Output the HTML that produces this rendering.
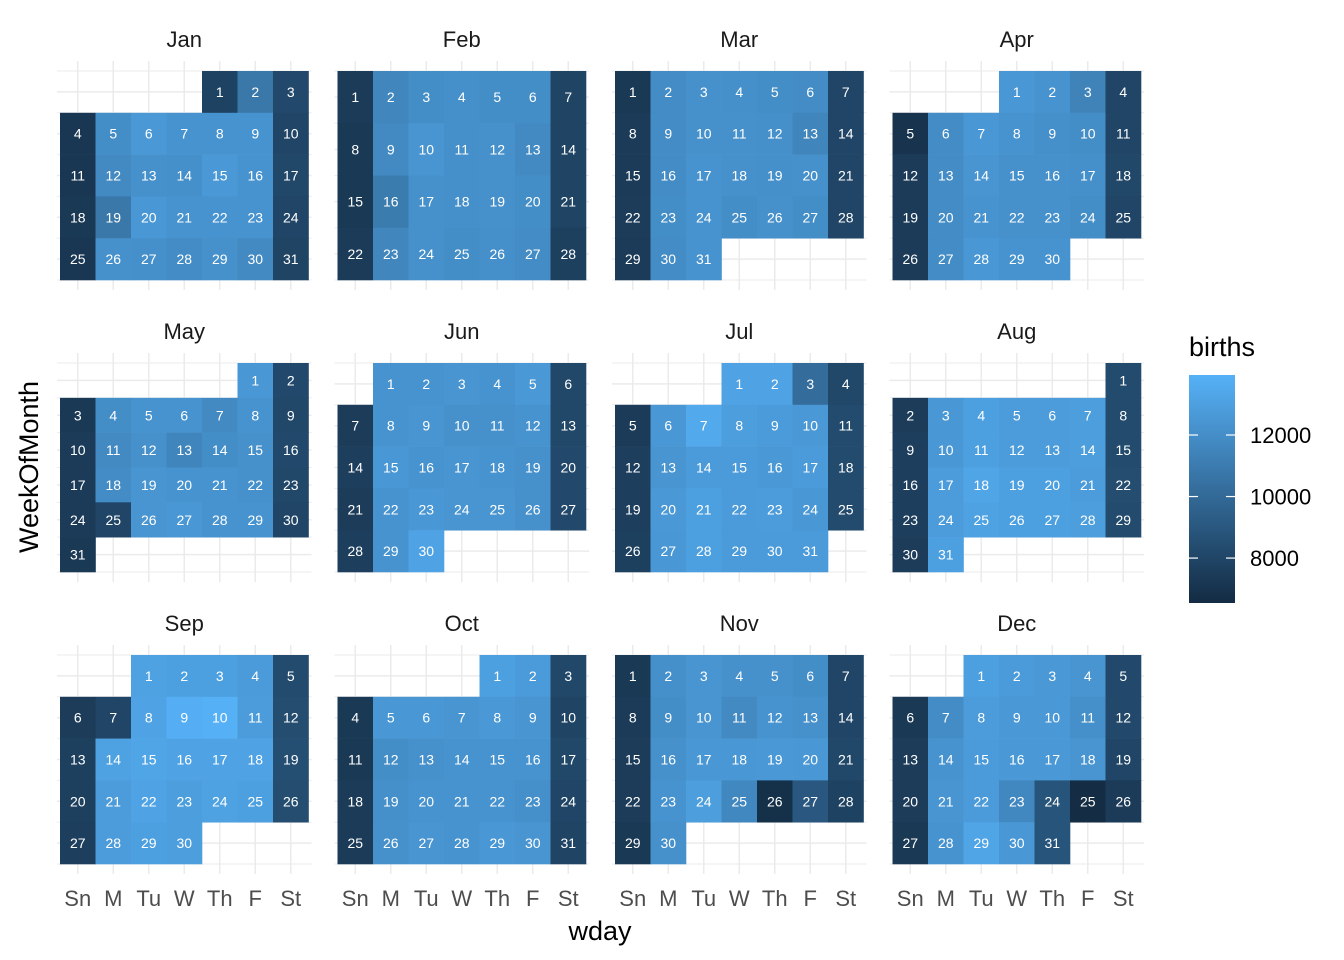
<!DOCTYPE html>
<html><head><meta charset="utf-8"><style>
body{margin:0;background:#fff}
svg{display:block;font-family:"Liberation Sans",sans-serif}
</style></head><body>
<svg id="chart" width="1344" height="960" xmlns="http://www.w3.org/2000/svg">
<text x="600" y="940" text-anchor="middle" font-size="27" fill="#000">wday</text>
<text transform="translate(38,467) rotate(-90)" text-anchor="middle" font-size="27" fill="#000">WeekOfMonth</text>
<text x="1189" y="356" font-size="27" fill="#000">births</text>
</svg>
<script>
const monthNames=["Jan","Feb","Mar","Apr","May","Jun","Jul","Aug","Sep","Oct","Nov","Dec"];
const dayLabels=["Sn","M","Tu","W","Th","F","St"];
const year=2015;
const legendTicks=[8000,10000,12000];
const jan=[7800,10800,8200,7200,12000,12600,12300,12300,12300,8000,7200,11800,12200,12100,12600,12300,8100,7300,10800,12500,12300,12300,12300,8000,7200,12200,12100,11900,12200,11800,7900];
const feb=[7400,11600,12000,12100,12000,12000,7900,7300,11800,12400,12100,12200,11800,7900,7300,11000,12200,12100,12200,12000,7900,7400,11600,12200,12000,12100,11900,7700];
const mar=[7300,11900,12200,12100,12000,11900,8000,7400,11900,12200,12200,12100,11500,8000,7400,11900,12300,12200,12100,12200,8000,7500,12000,12300,12000,12200,12000,8000,7400,11900,12300];
const apr=[12500,12300,11400,8000,7000,11900,12500,12300,12100,12000,8000,7400,11900,12400,12200,12200,12100,8100,7400,11900,12300,12200,12200,12000,8000,7400,11900,12500,12300,12300];
const may=[12500,8200,7300,12000,12300,12300,11800,12300,8100,7400,11800,12200,11500,12000,12200,8200,7400,11900,12400,12300,12300,12200,8100,7400,8000,12400,12500,12300,12300,8000,7300];
const jun=[12300,12300,12400,12300,12600,8100,7500,12300,12400,12200,12200,12300,8100,7600,12500,12300,12400,12300,12200,8200,7500,12300,12500,12400,12400,12200,8200,7600,12300,13200];
const jul=[13200,13200,10200,8100,7400,12500,13500,12900,12700,12600,8300,7600,12400,12700,12700,12600,12700,8300,7600,12600,13000,12700,12800,12500,8300,7700,12500,13000,12700,12700,12700];
const aug=[8300,7500,12500,13000,12800,12800,12900,8300,7600,12500,13000,12800,12800,12900,8300,7600,12800,13300,13000,13000,12800,8400,7600,12800,13100,13000,13000,12900,8300,7500,13000];
const sep=[13100,13000,13000,12700,8300,7500,8000,13200,13800,13900,12800,8400,7700,13100,13300,13200,13200,13200,8500,7700,12800,13200,12900,13100,13000,8400,7600,12800,13000,12900];
const oct=[13000,12700,8100,7300,12500,12500,12400,12600,12400,7900,7300,12000,12200,12300,12300,12300,8100,7400,12100,12300,12300,12300,12100,8000,7400,12200,12400,12300,12500,12400,7900];
const nov=[7300,12100,12400,12200,12200,12000,8000,7400,12000,12400,11800,12300,12200,8000,7500,12200,12500,12500,12600,12500,8100,7500,12300,12900,11700,6800,9000,7800,7300,12200];
const dec=[13000,12700,12600,12400,8200,7300,11900,12800,12600,12600,12100,8200,7500,12300,12700,12600,12600,12400,8000,7500,12400,12700,11700,8800,6600,7400,7300,12300,13300,12500,8800];
const months=[jan,feb,mar,apr,may,jun,jul,aug,sep,oct,nov,dec];

const NS="http://www.w3.org/2000/svg";
const svg=document.getElementById('chart');
const vmin=6540,vmax=13950;
const lo=[19,43,67],hi=[86,177,247];
function color(v){let t=(v-vmin)/(vmax-vmin);t=Math.max(0,Math.min(1,t));
 return 'rgb('+lo.map((c,i)=>Math.round(c+(hi[i]-c)*t)).join(',')+')';}
function mk(tag,attrs,parent){const e=document.createElementNS(NS,tag);for(const k in attrs)e.setAttribute(k,attrs[k]);(parent||svg).appendChild(e);return e;}
const colW=35.5, panelDX=277.5, rowTops=[71,363,655], tileH=209, x0=60;
months.forEach((vals,m)=>{
  const col=m%4,row=Math.floor(m/4);
  const px=x0+col*panelDX, py=rowTops[row];
  const g=mk('g',{});
  
  
  const first=new Date(year,m,1).getDay();
  const nrows=Math.ceil((first+vals.length)/7);
  const h=tileH/nrows;
  // grid
  for(let c=0;c<7;c++){const x=px+colW*(c+0.5);mk('line',{x1:x,x2:x,y1:py-10,y2:py+tileH+10,stroke:'#ebebeb','stroke-width':1.5},g);}
  for(let k=0;k<=nrows*2;k++){const y=py+k*h/2;mk('line',{x1:px-3,x2:px+7*colW+3,y1:y,y2:y,stroke:'#ebebeb','stroke-width':k%2?1.5:1},g);}
  vals.forEach((v,i)=>{
    const idx=first+i, c=idx%7, r=Math.floor(idx/7);
    const x=px+c*colW, y=py+r*h;
    const rc=mk('rect',{x:x,y:y,width:colW+0.3,height:h+0.3,fill:color(v)},g);
    
    
    const t=mk('text',{x:x+colW/2,y:y+h/2+5,'text-anchor':'middle','font-size':14,fill:'#fff'},g);
    t.textContent=i+1;
    
    
  });
  const title=mk('text',{x:px+colW*3.5,y:py-24,'text-anchor':'middle','font-size':22,fill:'#1a1a1a'},g);
  title.textContent=monthNames[m];
  
  
  if(row===2){dayLabels.forEach((d,c)=>{
    const t=mk('text',{x:px+colW*(c+0.5),y:906,'text-anchor':'middle','font-size':22,fill:'#4d4d4d'});
    t.textContent=d;
    
    
  });}
});
// legend
const defs=mk('defs',{});
const grad=mk('linearGradient',{id:'lg',x1:0,y1:1,x2:0,y2:0},defs);
for(let k=0;k<=10;k++){mk('stop',{offset:k/10,'stop-color':color(vmin+(vmax-vmin)*k/10)},grad);}
const bar=mk('rect',{x:1189,y:375,width:46,height:228,fill:'url(#lg)'});


legendTicks.forEach(v=>{
  const y=603-(v-vmin)/(vmax-vmin)*228;
  mk('line',{x1:1189,x2:1198,y1:y,y2:y,stroke:'#fff','stroke-width':1.2});
  mk('line',{x1:1226,x2:1235,y1:y,y2:y,stroke:'#fff','stroke-width':1.2});
  const t=mk('text',{x:1250,y:y+8,'font-size':22,fill:'#000'});
  t.textContent=v;
  
  
});
</script>
</body></html>
